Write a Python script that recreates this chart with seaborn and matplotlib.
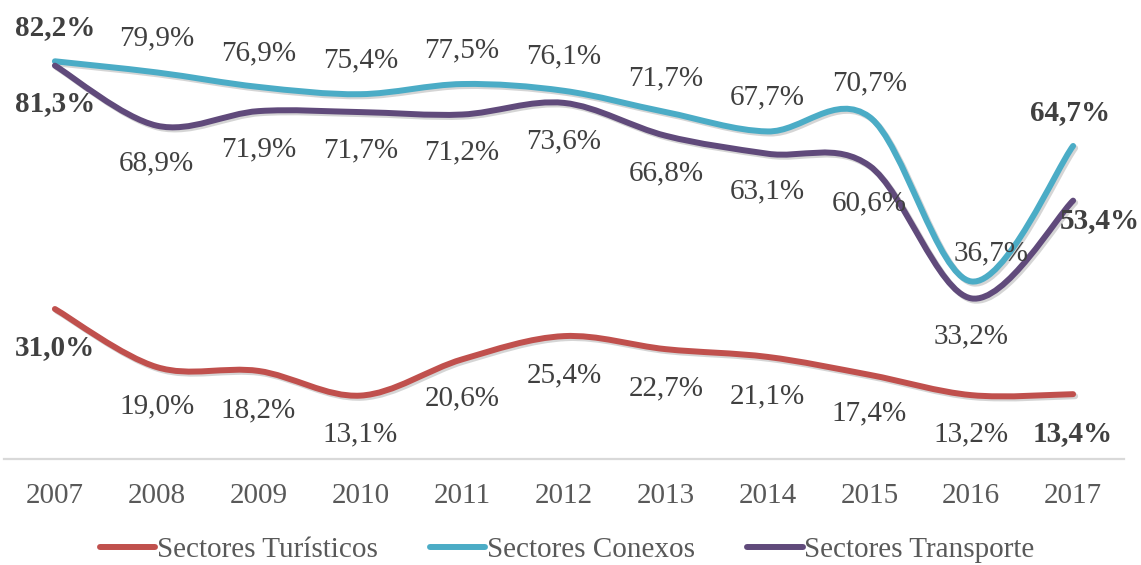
import numpy as np
import pandas as pd
import matplotlib
matplotlib.use("Agg")
import matplotlib.pyplot as plt
import matplotlib.patheffects as pe
from matplotlib.path import Path
from matplotlib.patches import PathPatch
from matplotlib.lines import Line2D
import seaborn as sns

# data
years = [2007, 2008, 2009, 2010, 2011, 2012, 2013, 2014, 2015, 2016, 2017]
turisticos = [31.0, 19.0, 18.2, 13.1, 20.6, 25.4, 22.7, 21.1, 17.4, 13.2, 13.4]
conexos = [82.2, 79.9, 76.9, 75.4, 77.5, 76.1, 71.7, 67.7, 70.7, 36.7, 64.7]
transporte = [81.3, 68.9, 71.9, 71.7, 71.2, 73.6, 66.8, 63.1, 60.6, 33.2, 53.4]
series_names = ["Sectores Turísticos", "Sectores Conexos", "Sectores Transporte"]

COLORS = ["#C0504D", "#4BACC6", "#604A7B"]
LABEL_COLOR = "#404040"
AXIS_TEXT = "#595959"
FS = 21
LW = 4.3


def smooth_path(xs, ys):
    """Excel-like smoothed line: cubic bezier through each point."""
    pts = np.column_stack([xs, ys]).astype(float)
    n = len(pts)
    verts = [pts[0]]
    codes = [Path.MOVETO]
    for i in range(n - 1):
        p0 = pts[max(i - 1, 0)]
        p1 = pts[i]
        p2 = pts[i + 1]
        p3 = pts[min(i + 2, n - 1)]
        verts += [p1 + (p2 - p0) / 6, p2 - (p3 - p1) / 6, p2]
        codes += [Path.CURVE4] * 3
    return Path(verts, codes)


def fmt(v):
    return f"{v:.1f}%".replace(".", ",")


def main():
    df = pd.DataFrame({"year": years,
                       series_names[0]: turisticos,
                       series_names[1]: conexos,
                       series_names[2]: transporte})

    sns.set_theme(style="white")
    plt.rcParams["font.family"] = ["Liberation Serif", "DejaVu Serif"]
    palette = sns.color_palette(COLORS)

    fig = plt.figure(figsize=(11.41, 5.65), dpi=100)
    ax = fig.add_axes([4 / 1141, 106 / 565, 1120 / 1141, 449 / 565])

    # default label offsets in pixels (dx, dy), plus a few hand-placed ones
    default_off = {series_names[0]: (0, -39),
                   series_names[1]: (0, 34),
                   series_names[2]: (0, -38)}
    special_off = {(series_names[1], 9): (20, 28),
                   (series_names[1], 10): (-3, 33),
                   (series_names[2], 10): (27, -20)}

    handles = []
    for name, col in zip(series_names, palette):
        path = smooth_path(df["year"], df[name])
        patch = PathPatch(path, fill=False, edgecolor=col, lw=LW,
                          capstyle="round", joinstyle="round", zorder=3)
        patch.set_path_effects([pe.SimpleLineShadow(offset=(1.5, -1.5),
                                                    shadow_color="k",
                                                    alpha=0.18),
                                pe.Normal()])
        ax.add_patch(patch)
        handles.append(Line2D([0], [0], color=col, lw=LW,
                              solid_capstyle="round"))

        n = len(df)
        for i, (x, v) in enumerate(zip(df["year"], df[name])):
            dx, dy = special_off.get((name, i), default_off[name])
            bold = i == 0 or i == n - 1
            ax.annotate(fmt(v), xy=(x, v), xytext=(dx, dy),
                        textcoords="offset pixels", ha="center",
                        va="center", fontsize=FS, color=LABEL_COLOR,
                        fontweight="bold" if bold else "normal",
                        zorder=4)

    ax.set_xlim(2006.5, 2017.5)
    ax.set_ylim(0, 92.8)
    ax.set_xticks(years)
    ax.set_xticklabels([str(y) for y in years])
    ax.set_yticks([])
    ax.tick_params(axis="x", length=0, pad=17, labelsize=FS,
                   labelcolor=AXIS_TEXT)
    sns.despine(ax=ax, left=True, top=True, right=True)
    ax.spines["bottom"].set_color("#D9D9D9")
    ax.spines["bottom"].set_linewidth(1.6)
    ax.set_xlabel("")
    ax.set_ylabel("")
    ax.patch.set_alpha(0)

    fig.legend(handles, series_names, loc="center",
               bbox_to_anchor=(0.497, 0.027), ncol=3, frameon=False,
               fontsize=FS, labelcolor=AXIS_TEXT, handlelength=1.9,
               handletextpad=0.05, columnspacing=1.8)

    fig.savefig("out.png", dpi=100)


if __name__ == "__main__":
    main()
